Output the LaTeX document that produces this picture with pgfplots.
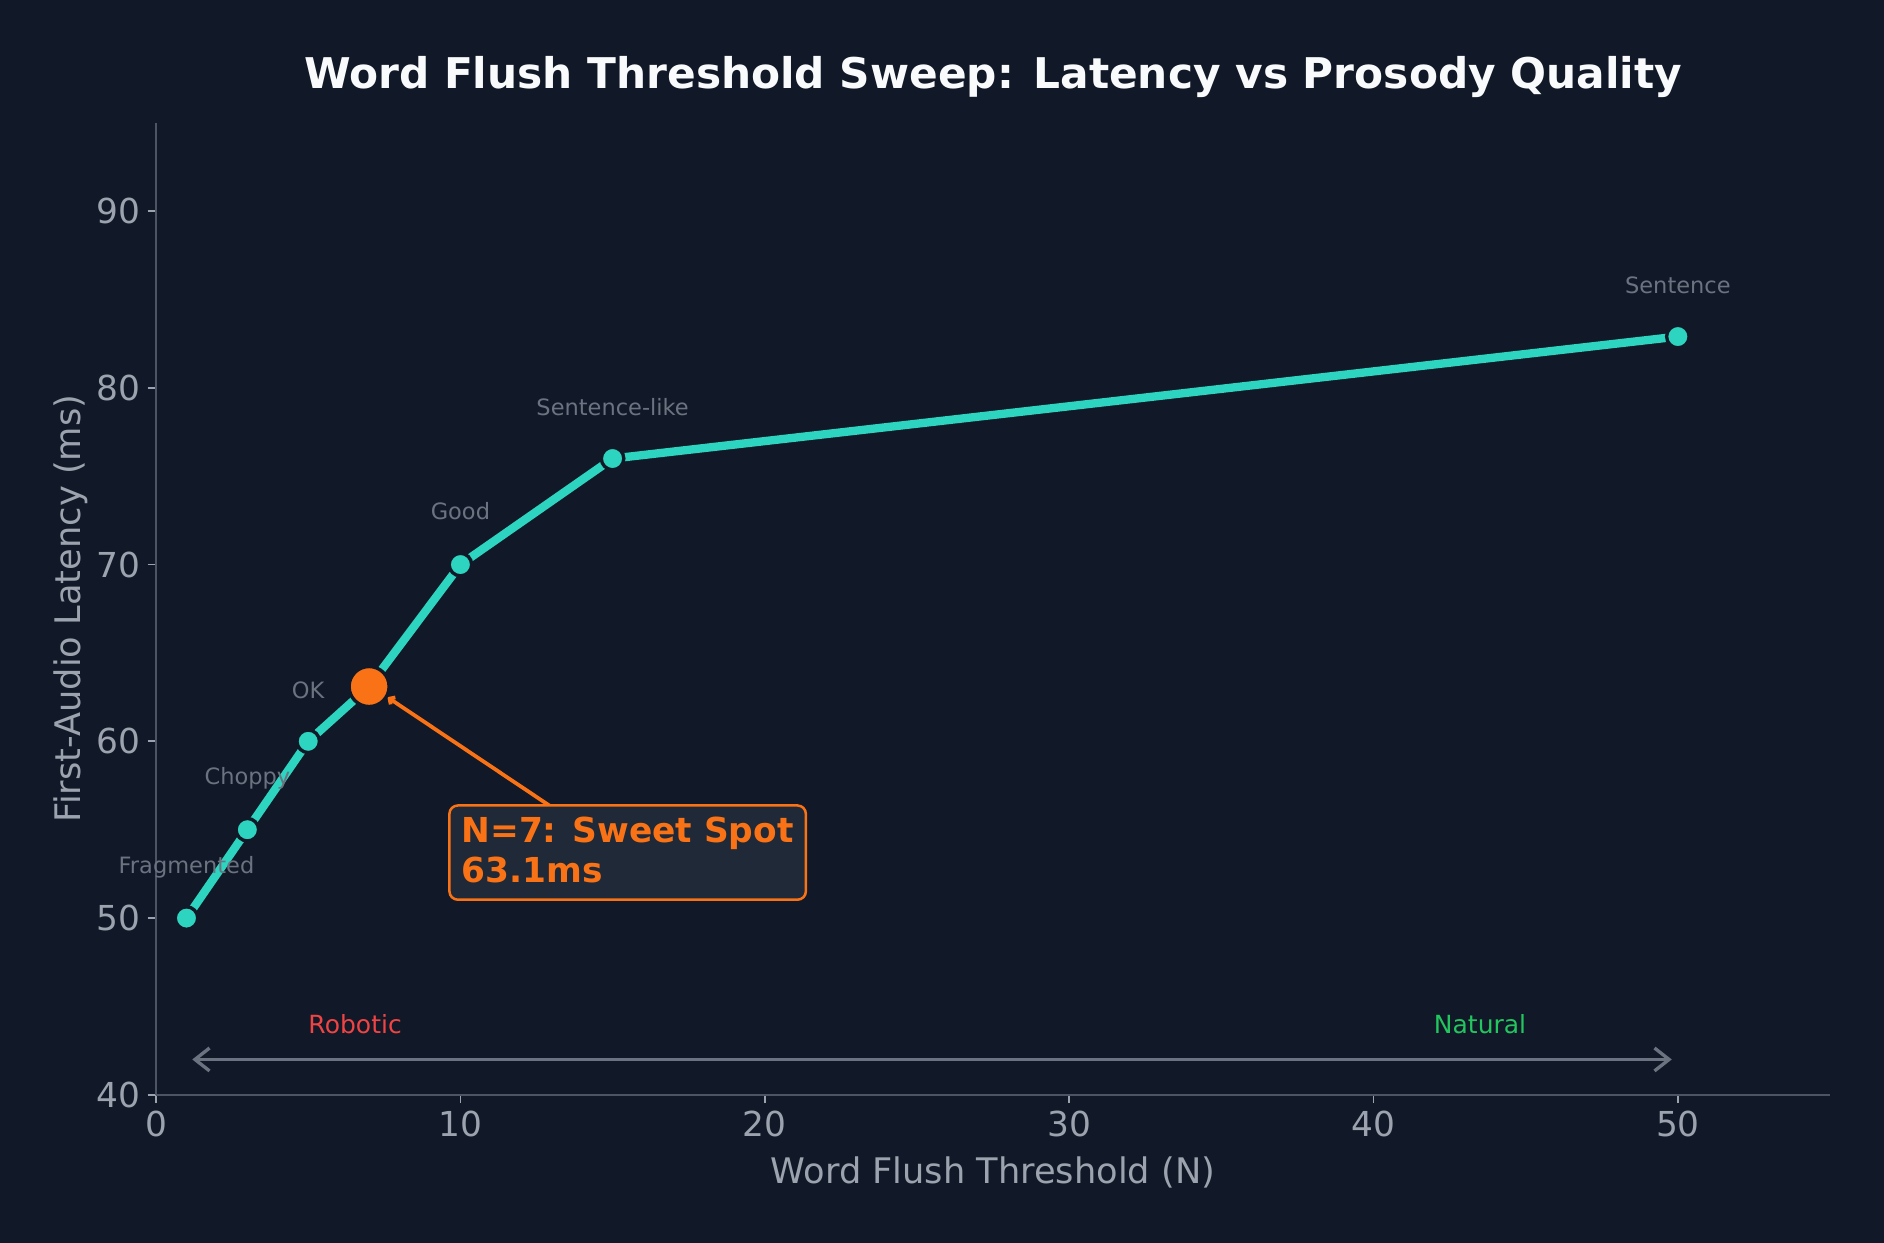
\documentclass[border=0pt]{standalone}
\usepackage{pgfplots}
\pgfplotsset{compat=1.18}
\usepackage{fontspec}
\setmainfont{DejaVu Sans}
\usetikzlibrary{arrows.meta,calc}
\definecolor{bg}{HTML}{111827}
\definecolor{teal}{HTML}{2DD4BF}
\definecolor{orng}{HTML}{F97316}
\definecolor{boxfill}{HTML}{1F2937}
\definecolor{tickc}{HTML}{9CA3AF}
\definecolor{notec}{HTML}{6B7280}
\definecolor{spine}{HTML}{4B5563}
\definecolor{titlec}{HTML}{F9FAFB}
\definecolor{redc}{HTML}{EF4444}
\definecolor{greenc}{HTML}{22C55E}
\begin{document}
\begin{tikzpicture}
\path[use as bounding box, fill=bg] (-74.9pt,-71pt) rectangle (829.4pt,525.5pt);
\begin{axis}[
  scale only axis, width=803.5pt, height=466.6pt,
  xmin=0, xmax=55, ymin=40, ymax=95,
  axis x line*=bottom, axis y line*=left,
  axis line style={draw=spine, line width=0.8pt},
  xtick={0,10,...,50}, ytick={40,50,...,90},
  tick align=outside, major tick length=4pt,
  tick style={draw=tickc, line width=0.8pt},
  ticklabel style={font=\fontsize{16.5}{19}\selectfont, text=tickc},
  /pgf/number format/assume math mode=true,
  clip=false,
]
\addplot[color=teal, line width=4pt, mark=*, mark size=5.4pt,
  mark options={fill=teal, draw=bg, line width=1.6pt}]
  coordinates {(1,50) (3,55) (5,60) (7,63.1) (10,70) (15,76) (50,82.9)};
\addplot[only marks, mark=*, mark size=9.6pt,
  mark options={fill=orng, draw=bg, line width=1.6pt}]
  coordinates {(7,63.1)};

\draw[orng, line width=1.8pt, -{Straight Barb[length=2pt,width=4pt]}] (axis cs:12.92,56.37) -- (axis cs:7.6,62.5);
\draw[draw=orng, fill=boxfill, line width=1.2pt, rounded corners=4pt]
  (axis cs:9.64,51.04) rectangle (axis cs:21.35,56.37);
\node[anchor=base west, inner sep=0pt, text=orng, font=\bfseries\fontsize{16.5}{19.2}\selectfont]
  at (axis cs:10.02,54.25) {N=7: Sweet Spot};
\node[anchor=base west, inner sep=0pt, text=orng, font=\bfseries\fontsize{16.5}{19.2}\selectfont]
  at (axis cs:10.02,52.0) {63.1ms};

\node[text=notec, font=\fontsize{10.8}{13}\selectfont] at (axis cs:1,52.9) {Fragmented};
\node[text=notec, font=\fontsize{10.8}{13}\selectfont] at (axis cs:3,57.9) {Choppy};
\node[text=notec, font=\fontsize{10.8}{13}\selectfont] at (axis cs:5,62.9) {OK};
\node[text=notec, font=\fontsize{10.8}{13}\selectfont] at (axis cs:10,73) {Good};
\node[text=notec, font=\fontsize{10.8}{13}\selectfont] at (axis cs:15,78.9) {Sentence-like};
\node[text=notec, font=\fontsize{10.8}{13}\selectfont] at (axis cs:50,85.8) {Sentence};

\draw[notec, line width=1.6pt, {Straight Barb[length=7pt,width=11pt]}-{Straight Barb[length=7pt,width=11pt]}] (axis cs:1.19,42) -- (axis cs:49.8,42);
\node[text=redc, font=\fontsize{12}{14}\selectfont] at (axis cs:6.54,44.0) {Robotic};
\node[text=greenc, font=\fontsize{12}{14}\selectfont] at (axis cs:43.5,44.0) {Natural};

\node[text=titlec, font=\bfseries\fontsize{20.3}{24}\selectfont] at ($(rel axis cs:0.5,1)+(0pt,22.1pt)$) {Word Flush Threshold Sweep: Latency vs Prosody Quality};
\node[text=tickc, font=\fontsize{16.9}{19}\selectfont] at ($(rel axis cs:0.5,0)+(0pt,-37.5pt)$) {Word Flush Threshold (N)};
\node[text=tickc, font=\fontsize{16.9}{19}\selectfont, rotate=90] at ($(rel axis cs:0,0.5)+(-41pt,0pt)$) {First-Audio Latency (ms)};
\end{axis}
\end{tikzpicture}
\end{document}
